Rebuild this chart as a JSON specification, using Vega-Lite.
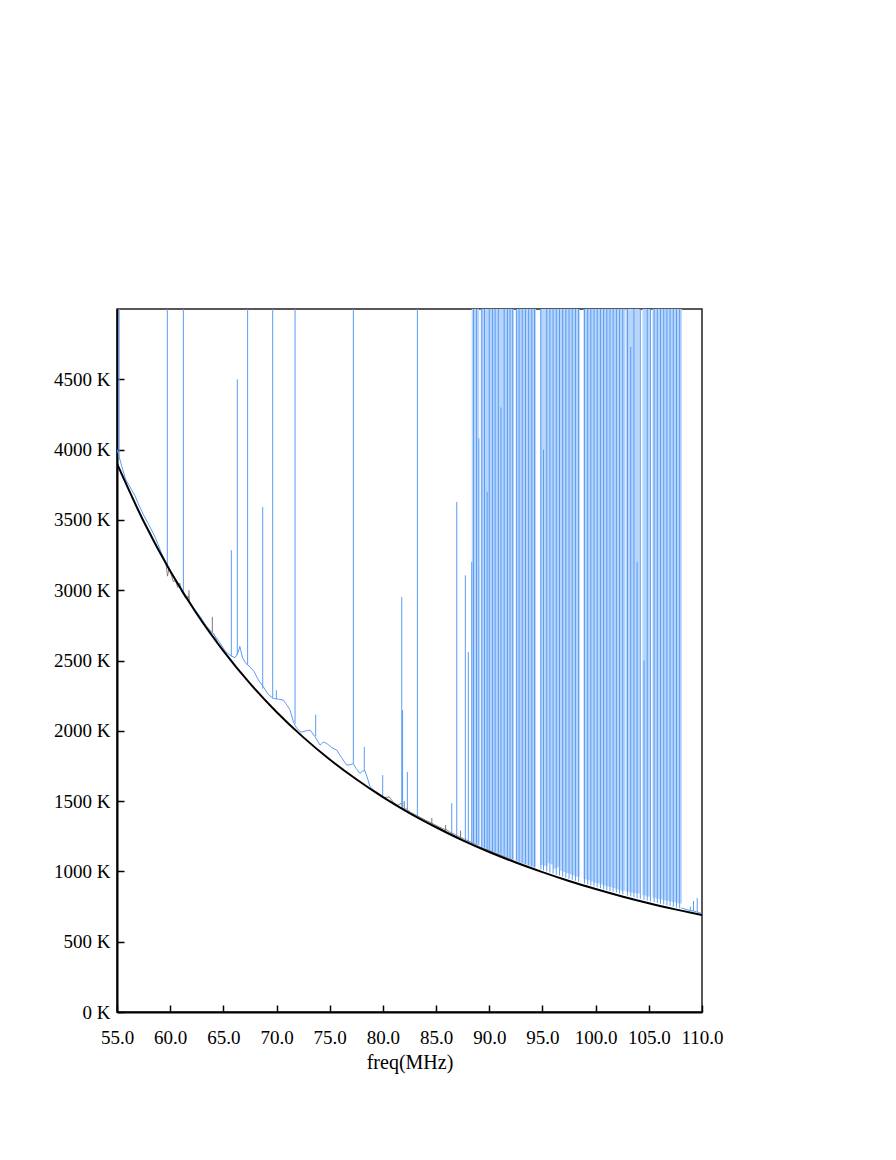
{
  "$schema": "https://vega.github.io/schema/vega-lite/v6.json",
  "width": 585,
  "height": 703,
  "autosize": {"type": "none"},
  "padding": {"left": 117, "top": 309, "right": 194, "bottom": 148},
  "background": "white",
  "config": {
    "view": {"stroke": "#222", "strokeWidth": 1.5},
    "font": "Liberation Serif",
    "axis": {
      "grid": false,
      "domainColor": "black",
      "domainWidth": 2,
      "tickColor": "black",
      "tickWidth": 1.5,
      "tickSize": -7,
      "labelFont": "Liberation Serif",
      "labelFontSize": 19,
      "labelColor": "black",
      "titleFont": "Liberation Serif",
      "titleFontSize": 20,
      "titleFontWeight": "normal",
      "titleColor": "black"
    }
  },
  "datasets": {
    "model": [
      {"f": 55, "t": 3900}, {"f": 57.5, "t": 3490}, {"f": 60, "t": 3137}, {"f": 62.5, "t": 2833},
      {"f": 65, "t": 2569}, {"f": 67.5, "t": 2337}, {"f": 70, "t": 2134}, {"f": 72.5, "t": 1955},
      {"f": 75, "t": 1796}, {"f": 77.5, "t": 1655}, {"f": 80, "t": 1528}, {"f": 82.5, "t": 1415},
      {"f": 85, "t": 1314}, {"f": 87.5, "t": 1221}, {"f": 90, "t": 1138}, {"f": 92.5, "t": 1063},
      {"f": 95, "t": 995}, {"f": 97.5, "t": 932}, {"f": 100, "t": 875}, {"f": 102.5, "t": 822},
      {"f": 105, "t": 774}, {"f": 107.5, "t": 730}, {"f": 110, "t": 689}
    ],
    "spec": [
      {"seg": "a", "f": 55.02, "t": 4000}, {"seg": "a", "f": 55.2, "t": 3950}, {"seg": "a", "f": 55.45, "t": 3880},
      {"seg": "a", "f": 55.8, "t": 3790}, {"seg": "a", "f": 56.1, "t": 3750}, {"seg": "a", "f": 56.4, "t": 3710},
      {"seg": "a", "f": 56.7, "t": 3670}, {"seg": "a", "f": 57.0, "t": 3615}, {"seg": "a", "f": 57.5, "t": 3535},
      {"seg": "a", "f": 58.0, "t": 3465}, {"seg": "a", "f": 58.6, "t": 3375}, {"seg": "a", "f": 59.2, "t": 3260},
      {"seg": "a", "f": 59.8, "t": 3165}, {"seg": "a", "f": 60.4, "t": 3085}, {"seg": "a", "f": 61.0, "t": 3015},
      {"seg": "a", "f": 61.6, "t": 2945}, {"seg": "a", "f": 62.2, "t": 2875}, {"seg": "a", "f": 62.8, "t": 2815},
      {"seg": "a", "f": 63.4, "t": 2745}, {"seg": "a", "f": 64.0, "t": 2695}, {"seg": "a", "f": 64.6, "t": 2635},
      {"seg": "a", "f": 65.2, "t": 2565}, {"seg": "a", "f": 65.5, "t": 2545}, {"seg": "a", "f": 65.8, "t": 2530},
      {"seg": "a", "f": 66.1, "t": 2520}, {"seg": "a", "f": 66.4, "t": 2560}, {"seg": "a", "f": 66.55, "t": 2600},
      {"seg": "a", "f": 66.8, "t": 2520}, {"seg": "a", "f": 67.1, "t": 2480}, {"seg": "a", "f": 67.5, "t": 2455},
      {"seg": "a", "f": 67.9, "t": 2420}, {"seg": "a", "f": 68.3, "t": 2360}, {"seg": "a", "f": 68.76, "t": 2313},
      {"seg": "a", "f": 69.2, "t": 2260}, {"seg": "a", "f": 69.7, "t": 2230}, {"seg": "a", "f": 70.2, "t": 2225},
      {"seg": "a", "f": 70.64, "t": 2218}, {"seg": "a", "f": 71.0, "t": 2180}, {"seg": "a", "f": 71.27, "t": 2147},
      {"seg": "a", "f": 71.6, "t": 2060}, {"seg": "a", "f": 71.9, "t": 2017}, {"seg": "a", "f": 72.3, "t": 1990},
      {"seg": "a", "f": 72.8, "t": 2000}, {"seg": "a", "f": 73.15, "t": 2005}, {"seg": "a", "f": 73.6, "t": 1960},
      {"seg": "a", "f": 74.09, "t": 1898}, {"seg": "a", "f": 74.4, "t": 1920}, {"seg": "a", "f": 74.72, "t": 1910},
      {"seg": "a", "f": 75.2, "t": 1880}, {"seg": "a", "f": 75.66, "t": 1863}, {"seg": "a", "f": 76.1, "t": 1810},
      {"seg": "a", "f": 76.6, "t": 1756}, {"seg": "a", "f": 77.0, "t": 1760}, {"seg": "a", "f": 77.2, "t": 1768},
      {"seg": "a", "f": 77.5, "t": 1730}, {"seg": "a", "f": 77.84, "t": 1697}, {"seg": "a", "f": 78.1, "t": 1715},
      {"seg": "a", "f": 78.32, "t": 1715}, {"seg": "a", "f": 78.6, "t": 1650}, {"seg": "a", "f": 78.79, "t": 1602},
      {"seg": "a", "f": 79.2, "t": 1575}, {"seg": "a", "f": 79.6, "t": 1550}, {"seg": "a", "f": 80.0, "t": 1530},
      {"seg": "a", "f": 80.5, "t": 1505}, {"seg": "a", "f": 81.0, "t": 1482}, {"seg": "a", "f": 81.5, "t": 1460},
      {"seg": "a", "f": 82.0, "t": 1438}, {"seg": "a", "f": 82.5, "t": 1417}, {"seg": "a", "f": 83.0, "t": 1395},
      {"seg": "a", "f": 83.5, "t": 1375}, {"seg": "a", "f": 84.0, "t": 1355}, {"seg": "a", "f": 84.5, "t": 1335},
      {"seg": "a", "f": 85.0, "t": 1316}, {"seg": "a", "f": 85.5, "t": 1298}, {"seg": "a", "f": 86.0, "t": 1279},
      {"seg": "a", "f": 86.5, "t": 1260}, {"seg": "a", "f": 87.0, "t": 1240}, {"seg": "a", "f": 87.5, "t": 1224},
      {"seg": "a", "f": 88.0, "t": 1208}, {"seg": "a", "f": 88.4, "t": 1192},
      {"seg": "b", "f": 108.05, "t": 740}, {"seg": "b", "f": 108.3, "t": 735}, {"seg": "b", "f": 108.6, "t": 728},
      {"seg": "b", "f": 108.9, "t": 722}, {"seg": "b", "f": 109.2, "t": 718}, {"seg": "b", "f": 109.5, "t": 712},
      {"seg": "b", "f": 109.8, "t": 706}, {"seg": "b", "f": 110, "t": 702}
    ],
    "grey": [
      {"seg": "a", "f": 59.3, "t": 3240}, {"seg": "a", "f": 59.6, "t": 3190}, {"seg": "a", "f": 59.75, "t": 3100},
      {"seg": "a", "f": 59.9, "t": 3160}, {"seg": "a", "f": 60.1, "t": 3110}, {"seg": "a", "f": 60.3, "t": 3060},
      {"seg": "a", "f": 60.5, "t": 3070}, {"seg": "a", "f": 60.7, "t": 3020}, {"seg": "a", "f": 60.9, "t": 3050},
      {"seg": "a", "f": 61.1, "t": 2990}, {"seg": "a", "f": 61.3, "t": 2960}, {"seg": "a", "f": 61.5, "t": 2940},
      {"seg": "a", "f": 61.7, "t": 2960}, {"seg": "a", "f": 61.9, "t": 2900}, {"seg": "a", "f": 62.1, "t": 2880},
      {"seg": "a", "f": 62.3, "t": 2860}, {"seg": "a", "f": 62.6, "t": 2830}, {"seg": "a", "f": 63.0, "t": 2780},
      {"seg": "a", "f": 63.5, "t": 2730}, {"seg": "a", "f": 63.9, "t": 2700}, {"seg": "a", "f": 64.1, "t": 2690},
      {"seg": "a", "f": 64.5, "t": 2620}, {"seg": "a", "f": 65.0, "t": 2570},
      {"seg": "b", "f": 79.3, "t": 1570}, {"seg": "b", "f": 79.8, "t": 1545}, {"seg": "b", "f": 80.2, "t": 1525},
      {"seg": "b", "f": 80.6, "t": 1530}, {"seg": "b", "f": 81.0, "t": 1490}, {"seg": "b", "f": 81.4, "t": 1470},
      {"seg": "b", "f": 81.7, "t": 1485}, {"seg": "b", "f": 81.9, "t": 1440}, {"seg": "b", "f": 82.2, "t": 1445},
      {"seg": "b", "f": 82.6, "t": 1420}, {"seg": "b", "f": 83.0, "t": 1405}, {"seg": "b", "f": 83.5, "t": 1385},
      {"seg": "b", "f": 84.0, "t": 1365}, {"seg": "b", "f": 84.4, "t": 1350}, {"seg": "b", "f": 84.8, "t": 1335},
      {"seg": "b", "f": 85.2, "t": 1320}, {"seg": "b", "f": 85.6, "t": 1305}, {"seg": "b", "f": 86.0, "t": 1295},
      {"seg": "b", "f": 86.4, "t": 1275}, {"seg": "b", "f": 86.8, "t": 1262}, {"seg": "b", "f": 87.2, "t": 1245},
      {"seg": "b", "f": 87.6, "t": 1232}, {"seg": "b", "f": 88.0, "t": 1218}, {"seg": "b", "f": 88.4, "t": 1203},
      {"seg": "b", "f": 88.8, "t": 1188}, {"seg": "b", "f": 89.2, "t": 1172}, {"seg": "b", "f": 89.6, "t": 1158},
      {"seg": "b", "f": 90.0, "t": 1150}, {"seg": "b", "f": 90.5, "t": 1132}, {"seg": "b", "f": 91.0, "t": 1117},
      {"seg": "b", "f": 91.5, "t": 1102}, {"seg": "b", "f": 92.0, "t": 1087}, {"seg": "b", "f": 92.5, "t": 1068}
    ],
    "bands": [
      {"f": 88.55, "lo": 1195, "hi": 5000}, {"f": 88.85, "lo": 1188, "hi": 5000},
      {"f": 89.4, "lo": 1162, "hi": 5000}, {"f": 89.7, "lo": 1152, "hi": 5000}, {"f": 90.0, "lo": 1145, "hi": 5000},
      {"f": 90.3, "lo": 1135, "hi": 5000}, {"f": 90.6, "lo": 1125, "hi": 5000}, {"f": 90.9, "lo": 1118, "hi": 5000},
      {"f": 91.2, "lo": 1108, "hi": 5000}, {"f": 91.5, "lo": 1098, "hi": 5000}, {"f": 91.8, "lo": 1088, "hi": 5000},
      {"f": 92.1, "lo": 1080, "hi": 5000},
      {"f": 92.7, "lo": 1068, "hi": 5000}, {"f": 93.0, "lo": 1060, "hi": 5000}, {"f": 93.3, "lo": 1052, "hi": 5000},
      {"f": 93.6, "lo": 1043, "hi": 5000}, {"f": 93.9, "lo": 1036, "hi": 5000}, {"f": 94.2, "lo": 1030, "hi": 5000},
      {"f": 95.0, "lo": 1045, "hi": 5000}, {"f": 95.3, "lo": 1040, "hi": 5000}, {"f": 95.6, "lo": 1060, "hi": 5000},
      {"f": 95.9, "lo": 1050, "hi": 5000}, {"f": 96.2, "lo": 1020, "hi": 5000}, {"f": 96.5, "lo": 1030, "hi": 5000},
      {"f": 96.8, "lo": 1005, "hi": 5000}, {"f": 97.1, "lo": 995, "hi": 5000}, {"f": 97.4, "lo": 988, "hi": 5000},
      {"f": 97.7, "lo": 980, "hi": 5000}, {"f": 98.0, "lo": 970, "hi": 5000}, {"f": 98.3, "lo": 962, "hi": 5000},
      {"f": 99.05, "lo": 945, "hi": 5000}, {"f": 99.35, "lo": 937, "hi": 5000}, {"f": 99.65, "lo": 928, "hi": 5000},
      {"f": 99.95, "lo": 921, "hi": 5000}, {"f": 100.25, "lo": 916, "hi": 5000}, {"f": 100.55, "lo": 908, "hi": 5000},
      {"f": 100.85, "lo": 900, "hi": 5000}, {"f": 101.15, "lo": 895, "hi": 5000}, {"f": 101.45, "lo": 889, "hi": 5000},
      {"f": 101.75, "lo": 882, "hi": 5000}, {"f": 102.05, "lo": 873, "hi": 5000}, {"f": 102.35, "lo": 866, "hi": 5000},
      {"f": 102.6, "lo": 862, "hi": 5000},
      {"f": 103.05, "lo": 857, "hi": 5000}, {"f": 103.35, "lo": 850, "hi": 5000}, {"f": 103.65, "lo": 846, "hi": 5000},
      {"f": 103.95, "lo": 842, "hi": 5000},
      {"f": 104.6, "lo": 830, "hi": 5000}, {"f": 104.9, "lo": 822, "hi": 5000},
      {"f": 105.55, "lo": 812, "hi": 5000}, {"f": 105.85, "lo": 807, "hi": 5000}, {"f": 106.15, "lo": 802, "hi": 5000},
      {"f": 106.45, "lo": 797, "hi": 5000}, {"f": 106.75, "lo": 792, "hi": 5000}, {"f": 107.05, "lo": 787, "hi": 5000},
      {"f": 107.35, "lo": 782, "hi": 5000}, {"f": 107.65, "lo": 777, "hi": 5000}, {"f": 107.9, "lo": 772, "hi": 5000}
    ],
    "spikes": [
      {"f": 55.2, "lo": 3950, "hi": 5000}, {"f": 59.73, "lo": 3170, "hi": 5000}, {"f": 61.24, "lo": 2990, "hi": 5000},
      {"f": 65.75, "lo": 2530, "hi": 3284}, {"f": 66.31, "lo": 2540, "hi": 4500}, {"f": 67.28, "lo": 2470, "hi": 5000},
      {"f": 68.7, "lo": 2300, "hi": 3592}, {"f": 69.64, "lo": 2230, "hi": 5000}, {"f": 69.98, "lo": 2225, "hi": 2289},
      {"f": 71.74, "lo": 2050, "hi": 5000}, {"f": 73.68, "lo": 1960, "hi": 2116}, {"f": 77.22, "lo": 1768, "hi": 5000},
      {"f": 78.25, "lo": 1715, "hi": 1886}, {"f": 79.98, "lo": 1530, "hi": 1685}, {"f": 81.77, "lo": 1470, "hi": 2952},
      {"f": 81.85, "lo": 1460, "hi": 2147}, {"f": 82.3, "lo": 1430, "hi": 1708}, {"f": 83.24, "lo": 1390, "hi": 5000},
      {"f": 86.47, "lo": 1260, "hi": 1485}, {"f": 86.94, "lo": 1245, "hi": 3628}, {"f": 87.75, "lo": 1215, "hi": 3106},
      {"f": 88.03, "lo": 1210, "hi": 2561}, {"f": 88.35, "lo": 1195, "hi": 3201},
      {"f": 88.52, "lo": 1202, "hi": 5000}, {"f": 88.8, "lo": 1195, "hi": 5000}, {"f": 89.02, "lo": 1188, "hi": 4080},
      {"f": 89.3, "lo": 1175, "hi": 5000}, {"f": 89.55, "lo": 1168, "hi": 5000}, {"f": 89.8, "lo": 1160, "hi": 3700},
      {"f": 90.0, "lo": 1153, "hi": 5000}, {"f": 90.3, "lo": 1144, "hi": 5000}, {"f": 90.55, "lo": 1137, "hi": 5000},
      {"f": 90.85, "lo": 1128, "hi": 5000}, {"f": 91.1, "lo": 1120, "hi": 4300}, {"f": 91.4, "lo": 1111, "hi": 5000},
      {"f": 91.7, "lo": 1102, "hi": 5000}, {"f": 91.95, "lo": 1095, "hi": 5000}, {"f": 92.2, "lo": 1087, "hi": 5000},
      {"f": 92.55, "lo": 1077, "hi": 5000}, {"f": 92.8, "lo": 1069, "hi": 5000}, {"f": 93.1, "lo": 1061, "hi": 5000},
      {"f": 93.4, "lo": 1052, "hi": 5000}, {"f": 93.7, "lo": 1044, "hi": 5000}, {"f": 94.0, "lo": 1036, "hi": 5000},
      {"f": 94.25, "lo": 1029, "hi": 5000}, {"f": 94.85, "lo": 1014, "hi": 5000}, {"f": 95.1, "lo": 1007, "hi": 4000},
      {"f": 95.4, "lo": 1000, "hi": 5000}, {"f": 95.7, "lo": 992, "hi": 5000}, {"f": 96.0, "lo": 984, "hi": 5000},
      {"f": 96.3, "lo": 977, "hi": 5000}, {"f": 96.6, "lo": 970, "hi": 5000}, {"f": 96.9, "lo": 962, "hi": 5000},
      {"f": 97.2, "lo": 955, "hi": 5000}, {"f": 97.5, "lo": 947, "hi": 5000}, {"f": 97.8, "lo": 940, "hi": 5000},
      {"f": 98.1, "lo": 933, "hi": 5000}, {"f": 98.4, "lo": 926, "hi": 5000}, {"f": 98.95, "lo": 914, "hi": 5000},
      {"f": 99.25, "lo": 907, "hi": 5000}, {"f": 99.55, "lo": 900, "hi": 5000}, {"f": 99.85, "lo": 893, "hi": 5000},
      {"f": 100.15, "lo": 887, "hi": 5000}, {"f": 100.45, "lo": 880, "hi": 5000}, {"f": 100.75, "lo": 873, "hi": 5000},
      {"f": 101.05, "lo": 867, "hi": 5000}, {"f": 101.35, "lo": 861, "hi": 5000}, {"f": 101.65, "lo": 855, "hi": 5000},
      {"f": 101.95, "lo": 849, "hi": 5000}, {"f": 102.25, "lo": 843, "hi": 5000}, {"f": 102.55, "lo": 837, "hi": 5000},
      {"f": 103.0, "lo": 828, "hi": 5000}, {"f": 103.3, "lo": 822, "hi": 4730}, {"f": 103.6, "lo": 816, "hi": 5000},
      {"f": 103.9, "lo": 810, "hi": 3200}, {"f": 104.2, "lo": 805, "hi": 5000}, {"f": 104.55, "lo": 798, "hi": 2500},
      {"f": 104.85, "lo": 793, "hi": 5000}, {"f": 105.15, "lo": 787, "hi": 5000}, {"f": 105.5, "lo": 781, "hi": 5000},
      {"f": 105.8, "lo": 775, "hi": 5000}, {"f": 106.1, "lo": 769, "hi": 5000}, {"f": 106.4, "lo": 764, "hi": 5000},
      {"f": 106.7, "lo": 759, "hi": 5000}, {"f": 107.0, "lo": 754, "hi": 5000}, {"f": 107.3, "lo": 748, "hi": 5000},
      {"f": 107.6, "lo": 743, "hi": 5000}, {"f": 107.9, "lo": 738, "hi": 5000},
      {"f": 108.9, "lo": 722, "hi": 750}, {"f": 109.2, "lo": 718, "hi": 790}, {"f": 109.55, "lo": 712, "hi": 810}
    ],
    "greyspikes": [
      {"f": 61.77, "lo": 2930, "hi": 3000}, {"f": 63.96, "lo": 2700, "hi": 2810}, {"f": 82.0, "lo": 1440, "hi": 1500},
      {"f": 84.6, "lo": 1335, "hi": 1380}, {"f": 85.9, "lo": 1285, "hi": 1330}, {"f": 87.3, "lo": 1235, "hi": 1290}
    ]
  },
  "layer": [
    {
      "data": {"name": "bands"},
      "mark": {"type": "rule", "stroke": "#b8d6fc", "strokeWidth": 4.3, "strokeCap": "butt", "clip": true},
      "encoding": {
        "x": {"field": "f", "type": "quantitative", "title": "freq(MHz)"},
        "y": {"field": "lo", "type": "quantitative", "title": null},
        "y2": {"field": "hi"}
      }
    },
    {
      "data": {"name": "grey"},
      "mark": {"type": "line", "color": "#666666", "strokeWidth": 1, "opacity": 0.8, "clip": true},
      "encoding": {
        "x": {"field": "f", "type": "quantitative", "title": "freq(MHz)"},
        "y": {"field": "t", "type": "quantitative", "title": null},
        "detail": {"field": "seg", "type": "nominal"}
      }
    },
    {
      "data": {"name": "greyspikes"},
      "mark": {"type": "rule", "color": "#777777", "strokeWidth": 1, "clip": true},
      "encoding": {
        "x": {"field": "f", "type": "quantitative", "title": "freq(MHz)"},
        "y": {"field": "lo", "type": "quantitative", "title": null},
        "y2": {"field": "hi"}
      }
    },
    {
      "data": {"name": "spec"},
      "mark": {"type": "line", "color": "#5b9cf6", "strokeWidth": 1, "clip": true},
      "encoding": {
        "x": {"field": "f", "type": "quantitative", "title": "freq(MHz)"},
        "y": {"field": "t", "type": "quantitative", "title": null},
        "detail": {"field": "seg", "type": "nominal"}
      }
    },
    {
      "data": {"name": "spikes"},
      "mark": {"type": "rule", "color": "#5b9cf6", "strokeWidth": 1, "clip": true},
      "encoding": {
        "x": {"field": "f", "type": "quantitative", "title": "freq(MHz)"},
        "y": {"field": "lo", "type": "quantitative", "title": null},
        "y2": {"field": "hi"}
      }
    },
    {
      "data": {"name": "model"},
      "mark": {"type": "line", "color": "black", "strokeWidth": 2, "interpolate": "monotone", "clip": true},
      "encoding": {
        "x": {"field": "f", "type": "quantitative", "scale": {"domain": [55, 110], "nice": false, "zero": false},
          "title": "freq(MHz)",
          "axis": {"values": [55, 60, 65, 70, 75, 80, 85, 90, 95, 100, 105, 110], "format": ".1f", "labelPadding": 23, "titlePadding": 5, "labelFlush": false, "labelOverlap": false}},
        "y": {"field": "t", "type": "quantitative", "scale": {"domain": [0, 5000], "nice": false},
          "title": null,
          "axis": {"values": [0, 500, 1000, 1500, 2000, 2500, 3000, 3500, 4000, 4500], "labelExpr": "datum.value + ' K'", "labelPadding": 14, "labelOverlap": false}}
      }
    }
  ]
}
